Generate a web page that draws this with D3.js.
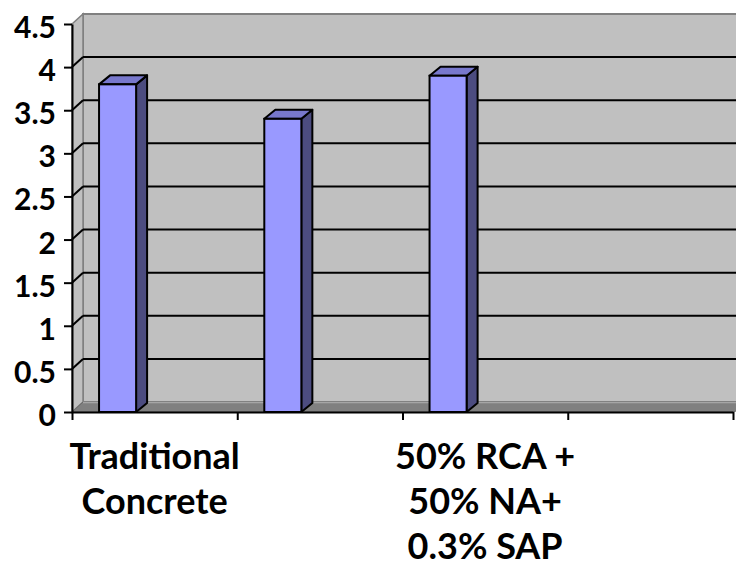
<!DOCTYPE html>
<html>
<head>
<meta charset="utf-8">
<script src="https://cdn.jsdelivr.net/npm/d3@7"></script>
<style>
  body { margin: 0; background: #fff; }
  text { font-family: Lato, "Open Sans", sans-serif; font-weight: bold; fill: #000; }
</style>
</head>
<body>
<div id="chart"></div>
<script>
// categories (only 1st and 3rd labels are printed on the original chart)
var categories = ["Traditional Concrete", "", "50% RCA + 50% NA+ 0.3% SAP", ""];
var labelLines = [["Traditional", "Concrete"], [], ["50% RCA +", "50% NA+", "0.3% SAP"], []];
var values = [3.8, 3.4, 3.9, null];
var yTicks = [0, 0.5, 1, 1.5, 2, 2.5, 3, 3.5, 4, 4.5];

//Width and height
var w = 736;
var h = 569;

// 3d depth offsets
var wallDx = 11, wallDy = -10;
var barDx = 11, barDy = -9;

var svg = d3.select("#chart")
  .append("svg")
  .attr("width", w)
  .attr("height", h);

var x0 = d3.scaleBand()
  .domain(d3.range(categories.length))
  .range([72, 733])
  .padding(0);

// slot inside each category (bar sits in the first slot of the cluster)
var x1 = d3.scaleBand()
  .domain([0, 1, 2])
  .range([0, x0.bandwidth()])
  .paddingInner(0)
  .paddingOuter(0.73);

var y = d3.scaleLinear()
  .domain([0, 4.5])
  .range([412, 24]);

var xLeft = x0.range()[0], xRight = x0.range()[1];
var yTop = y(4.5), yBase = y(0);

// back wall
svg.append("rect")
  .attr("x", xLeft + wallDx)
  .attr("y", yTop + wallDy)
  .attr("width", xRight - xLeft + 20)
  .attr("height", yBase - yTop)
  .style("fill", "#c0c0c0")
  .attr("stroke", "#808080")
  .attr("stroke-width", 2);

// side wall
svg.append("polygon")
  .attr("points", [[xLeft, yTop], [xLeft + wallDx, yTop + wallDy], [xLeft + wallDx, yBase + wallDy], [xLeft, yBase]].join(" "))
  .style("fill", "#c0c0c0")
  .attr("stroke", "#808080")
  .attr("stroke-width", 1.5);

// floor
svg.append("polygon")
  .attr("points", [[xLeft, yBase], [xLeft + wallDx, yBase + wallDy], [xRight + wallDx + 20, yBase + wallDy], [xRight, yBase]].join(" "))
  .style("fill", "#808080")
  .attr("stroke", "#6a6a6a")
  .attr("stroke-width", 1);

svg.append("line")
  .attr("x1", xLeft + wallDx).attr("x2", w)
  .attr("y1", yBase + wallDy + 0.5).attr("y2", yBase + wallDy + 0.5)
  .attr("stroke", "#a6a6a6")
  .attr("stroke-width", 1.5);

// gridlines on back wall + side wall
var grid = yTicks.filter(function(t) { return t > 0 && t < 4.5; });

svg.selectAll(".grid")
  .data(grid)
  .enter()
  .append("line")
  .attr("class", "grid")
  .attr("x1", xLeft + wallDx)
  .attr("x2", w)
  .attr("y1", function(d) { return y(d) + wallDy; })
  .attr("y2", function(d) { return y(d) + wallDy; })
  .attr("stroke", "#000")
  .attr("stroke-width", 2);

svg.selectAll(".gridside")
  .data(grid)
  .enter()
  .append("line")
  .attr("class", "gridside")
  .attr("x1", xLeft)
  .attr("x2", xLeft + wallDx)
  .attr("y1", function(d) { return y(d); })
  .attr("y2", function(d) { return y(d) + wallDy; })
  .attr("stroke", "#000")
  .attr("stroke-width", 2);

// bars
var barData = values.map(function(v, i) { return { i: i, v: v }; })
  .filter(function(d) { return d.v != null; });

var bars = svg.selectAll(".bar")
  .data(barData)
  .enter()
  .append("g")
  .attr("class", "bar");

function xl(d) { return x0(d.i) + x1(0); }
function xr(d) { return x0(d.i) + x1(0) + x1.bandwidth(); }

bars.append("polygon")
  .attr("points", function(d) {
    var yt = y(d.v);
    return [[xr(d), yt], [xr(d) + barDx, yt + barDy], [xr(d) + barDx, yBase + barDy], [xr(d), yBase]].join(" ");
  })
  .style("fill", "#4c4c80")
  .attr("stroke", "#000")
  .attr("stroke-width", 2)
  .attr("stroke-linejoin", "round");

bars.append("polygon")
  .attr("points", function(d) {
    var yt = y(d.v);
    return [[xl(d), yt], [xl(d) + barDx, yt + barDy], [xr(d) + barDx, yt + barDy], [xr(d), yt]].join(" ");
  })
  .style("fill", "#7878cc")
  .attr("stroke", "#000")
  .attr("stroke-width", 2)
  .attr("stroke-linejoin", "round");

bars.append("rect")
  .attr("x", xl)
  .attr("y", function(d) { return y(d.v); })
  .attr("width", x1.bandwidth())
  .attr("height", function(d) { return yBase - y(d.v); })
  .style("fill", "#9999ff")
  .attr("stroke", "#000")
  .attr("stroke-width", 2);

// y axis
var yAxis = svg.append("g")
  .attr("transform", "translate(" + xLeft + ",0)")
  .call(d3.axisLeft(y).tickValues(yTicks).tickSize(8).tickSizeOuter(0).tickPadding(8)
    .tickFormat(function(d) { return String(d); }));

yAxis.select(".domain").attr("stroke", "#000").attr("stroke-width", 2);
yAxis.selectAll(".tick line").attr("stroke", "#000").attr("stroke-width", 2);
yAxis.selectAll(".tick text")
  .attr("dy", "0.45em")
  .style("font-size", "30px");

// x axis (category boundaries)
var xb = d3.scaleLinear().domain([0, categories.length]).range([xLeft, xRight]);

var xAxis = svg.append("g")
  .attr("transform", "translate(0," + yBase + ")")
  .call(d3.axisBottom(xb).ticks(categories.length).tickSize(8).tickSizeOuter(0).tickFormat(""));

xAxis.select(".domain").attr("stroke", "#000").attr("stroke-width", 2);
xAxis.selectAll(".tick line").attr("stroke", "#000").attr("stroke-width", 2);

// category labels
svg.selectAll(".catlabel")
  .data(labelLines)
  .enter()
  .append("text")
  .attr("class", "catlabel")
  .attr("text-anchor", "middle")
  .style("font-size", "36px")
  .each(function(lines, i) {
    var t = d3.select(this);
    lines.forEach(function(l, k) {
      t.append("tspan")
        .attr("x", x0(i) + x0.bandwidth() / 2)
        .attr("y", 469 + k * 45)
        .text(l);
    });
  });
</script>
</body>
</html>
